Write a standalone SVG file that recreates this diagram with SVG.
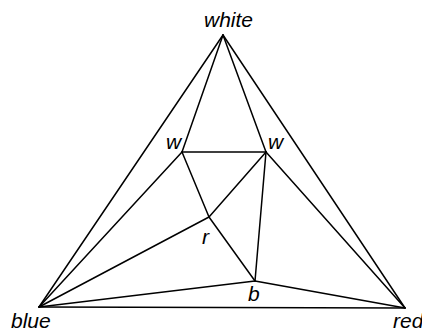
<svg xmlns="http://www.w3.org/2000/svg" width="422" height="333" viewBox="0 0 422 333">
<style>
.e{stroke:#000;stroke-width:1.5;fill:none;stroke-linecap:round}
.t{font-family:"Liberation Sans",Arial,sans-serif;font-style:italic;font-size:21px;fill:#000}
</style>
<rect width="422" height="333" fill="#fff"/>
<g id="connectors">
<line class="e" x1="223" y1="35" x2="39" y2="307"/>
<line class="e" x1="223" y1="35" x2="405" y2="308"/>
<line class="e" x1="39" y1="307" x2="405" y2="308"/>
<line class="e" x1="223" y1="35" x2="182" y2="152"/>
<line class="e" x1="223" y1="35" x2="266" y2="152"/>
<line class="e" x1="182" y1="152" x2="266" y2="152"/>
<line class="e" x1="182" y1="152" x2="39" y2="307"/>
<line class="e" x1="182" y1="152" x2="209" y2="217"/>
<line class="e" x1="266" y1="152" x2="209" y2="217"/>
<line class="e" x1="266" y1="152" x2="255" y2="281"/>
<line class="e" x1="266" y1="152" x2="405" y2="308"/>
<line class="e" x1="209" y1="217" x2="39" y2="307"/>
<line class="e" x1="209" y1="217" x2="255" y2="281"/>
<line class="e" x1="255" y1="281" x2="39" y2="307"/>
<line class="e" x1="255" y1="281" x2="405" y2="308"/>
</g>
<g id="white"><text class="t" x="204" y="27">white</text></g>
<g id="w1"><text class="t" x="166" y="149">w</text></g>
<g id="w2"><text class="t" x="268" y="149">w</text></g>
<g id="r"><text class="t" x="202" y="244">r</text></g>
<g id="b"><text class="t" x="248" y="301">b</text></g>
<g id="blue"><text class="t" x="11" y="328">blue</text></g>
<g id="red"><text class="t" x="393" y="328">red</text></g>
</svg>
